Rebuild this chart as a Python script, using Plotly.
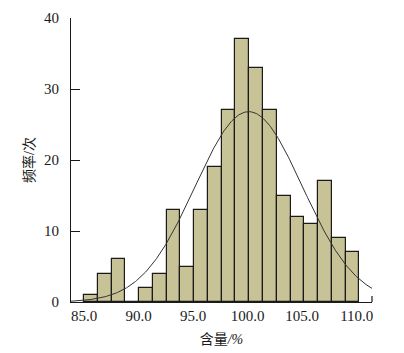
import numpy as np
import plotly.graph_objects as go

# Histogram data (counts per bin)
bin_start = 85.0
bin_width = 1.262
counts = [1, 4, 6, 0, 2, 4, 13, 5, 13, 19, 27, 37, 33, 27, 15, 12, 11, 17, 9, 7]

# Fitted normal curve parameters
fit_mean = 100.1
fit_sigma = 4.92

x_ticks = [85.0, 90.0, 95.0, 100.0, 105.0, 110.0]
x_tick_labels = ["85.0", "90.0", "95.0", "100.0", "105.0", "110.0"]
y_ticks = [0, 10, 20, 30, 40]

x_range = [83.8, 111.4]
y_range = [0, 40]

centers = [bin_start + bin_width * (i + 0.5) for i in range(len(counts))]
total = sum(counts)

xc = np.linspace(x_range[0], x_range[1], 300)
yc = total * bin_width / (fit_sigma * np.sqrt(2 * np.pi)) * np.exp(-0.5 * ((xc - fit_mean) / fit_sigma) ** 2)

font_main = "Liberation Serif, Times New Roman, Noto Sans CJK SC, serif"

fig = go.Figure()
fig.add_trace(go.Bar(
    x=centers, y=counts, width=bin_width,
    marker=dict(color="#c8c396", line=dict(color="#1a1a1a", width=1.2)),
    hoverinfo="x+y", showlegend=False,
))
fig.add_trace(go.Scatter(
    x=xc, y=yc, mode="lines",
    line=dict(color="#333333", width=1),
    showlegend=False, hoverinfo="skip",
))

# small tick at right end of x axis
fig.add_shape(type="line", xref="x domain", yref="y", x0=1, x1=1, y0=0, y1=0.85,
              line=dict(color="#1a1a1a", width=1.2))

fig.update_layout(
    width=404, height=353,
    margin=dict(l=71, r=32, t=18, b=51, autoexpand=False),
    paper_bgcolor="white", plot_bgcolor="white",
    font=dict(family=font_main, size=15, color="#1a1a1a"),
    bargap=0,
)
fig.update_xaxes(
    range=x_range, tickmode="array", tickvals=x_ticks, ticktext=x_tick_labels,
    showline=True, linecolor="#1a1a1a", linewidth=1.2, mirror=False,
    ticks="", showgrid=False, zeroline=False, automargin=False,
    title=dict(text="含量<i>/%</i>", font=dict(size=14), standoff=11),
)
fig.update_yaxes(
    range=y_range, tickmode="array", tickvals=y_ticks,
    showline=True, linecolor="#1a1a1a", linewidth=1.2, mirror=False,
    ticks="inside", ticklen=9, tickwidth=1.2, tickcolor="#1a1a1a",
    ticklabelstandoff=8, automargin=False,
    showgrid=False, zeroline=False,
    title=dict(text="频率/次", font=dict(size=14), standoff=6),
)

fig.write_html("out.html")
